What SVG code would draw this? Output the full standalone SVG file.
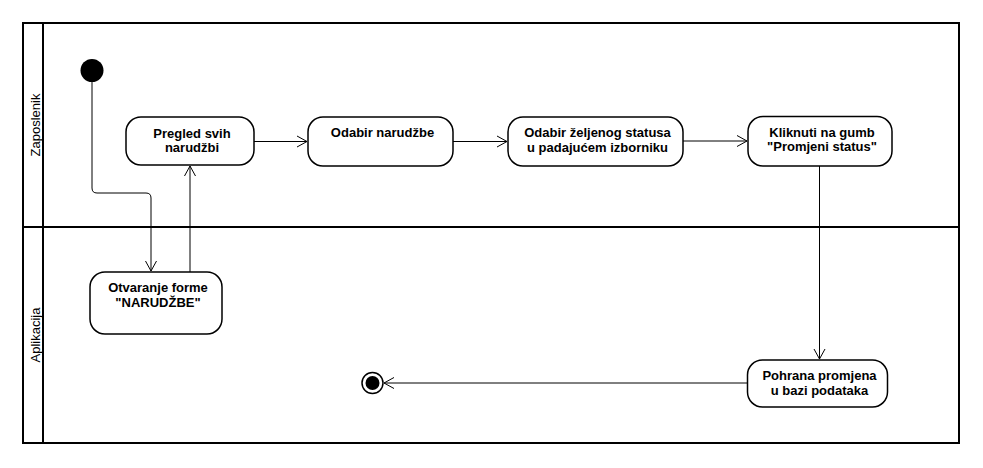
<svg xmlns="http://www.w3.org/2000/svg" width="983" height="468" viewBox="0 0 983 468">
  <style>
    .frame { fill: none; stroke: #000; stroke-width: 2; }
    .act { fill: #fff; stroke: #000; stroke-width: 1.5; }
    .lbl { font-family: "Liberation Sans", Arial, sans-serif; font-size: 13px; font-weight: bold; fill: #000; text-anchor: middle; }
    .lane { font-family: "Liberation Sans", Arial, sans-serif; font-size: 13px; fill: #000; text-anchor: middle; }
    .conn { fill: none; stroke: #000; stroke-width: 1; }
  </style>
  <defs>
    <marker id="arr" markerUnits="userSpaceOnUse" markerWidth="14" markerHeight="14" viewBox="0 0 14 14" refX="12" refY="7" orient="auto">
      <path d="M2,1.5 L12,7 L2,12.5" fill="none" stroke="#000" stroke-width="1"/>
    </marker>
  </defs>
  <rect width="983" height="468" fill="#fff"/>

  <g id="pool">
    <rect class="frame" x="23" y="23" width="936" height="420"/>
    <line class="frame" x1="43" y1="23" x2="43" y2="443"/>
    <line class="frame" x1="23" y1="227" x2="959" y2="227"/>
    <text class="lane" transform="translate(39.5,125) rotate(-90)">Zaposlenik</text>
    <text class="lane" transform="translate(39.5,335) rotate(-90)">Aplikacija</text>
  </g>

  <g id="connectors">
    <path class="conn" d="M92,82 V188 Q92,193 97,193 H146 Q151,193 151,198 V271" marker-end="url(#arr)"/>
    <path class="conn" d="M190,272 V166" marker-end="url(#arr)"/>
    <path class="conn" d="M254,141.5 H307" marker-end="url(#arr)"/>
    <path class="conn" d="M453,141.5 H507" marker-end="url(#arr)"/>
    <path class="conn" d="M683,141 H747" marker-end="url(#arr)"/>
    <path class="conn" d="M819.5,166 V359" marker-end="url(#arr)"/>
    <path class="conn" d="M747,383 H384" marker-end="url(#arr)"/>
  </g>

  <g id="start">
    <circle cx="92" cy="70.5" r="11.5" fill="#000"/>
  </g>

  <g id="pregled">
    <rect class="act" x="126" y="117" width="128" height="48" rx="15" ry="15"/>
    <text class="lbl" x="192" y="137.5">Pregled svih</text>
    <text class="lbl" x="192" y="152">narudžbi</text>
  </g>

  <g id="odabir-narudzbe">
    <rect class="act" x="308" y="117" width="145" height="49" rx="15" ry="15"/>
    <text class="lbl" x="382.5" y="136.5">Odabir narudžbe</text>
  </g>

  <g id="odabir-statusa">
    <rect class="act" x="508" y="117" width="175" height="49" rx="15" ry="15"/>
    <text class="lbl" x="597.5" y="136.5">Odabir željenog statusa</text>
    <text class="lbl" x="597.5" y="151.5">u padajućem izborniku</text>
  </g>

  <g id="kliknuti">
    <rect class="act" x="748" y="116.5" width="144" height="49.5" rx="15" ry="15"/>
    <text class="lbl" x="822" y="136.5">Kliknuti na gumb</text>
    <text class="lbl" x="822" y="151">"Promjeni status"</text>
  </g>

  <g id="otvaranje">
    <rect class="act" x="90" y="272" width="132" height="62" rx="15" ry="15"/>
    <text class="lbl" x="158" y="292">Otvaranje forme</text>
    <text class="lbl" x="158" y="307">"NARUDŽBE"</text>
  </g>

  <g id="pohrana">
    <rect class="act" x="747.5" y="360" width="140" height="47" rx="15" ry="15"/>
    <text class="lbl" x="819.5" y="380">Pohrana promjena</text>
    <text class="lbl" x="819.5" y="395">u bazi podataka</text>
  </g>

  <g id="end">
    <circle cx="372.5" cy="383" r="10.5" fill="#fff" stroke="#000" stroke-width="1.5"/>
    <circle cx="372.5" cy="383" r="7" fill="#000"/>
  </g>
</svg>
